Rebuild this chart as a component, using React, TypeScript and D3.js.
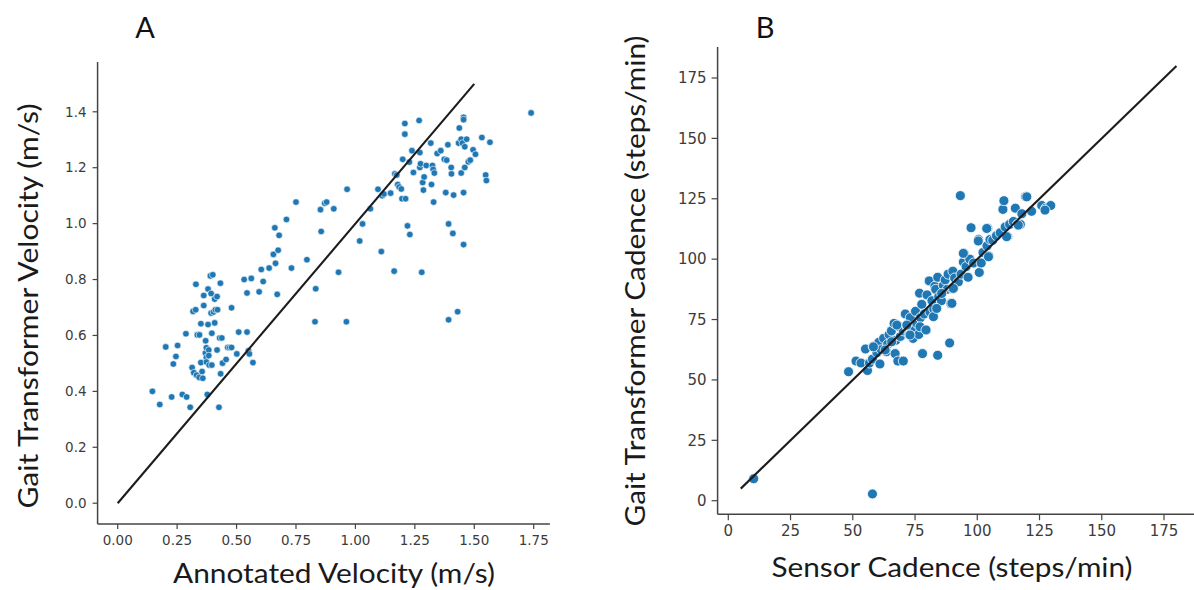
import React from "react";
import * as d3 from "d3";

// Panel A: [annotated velocity, gait transformer velocity] (m/s)
const velocityPairs: [number, number][] = [
  [0.146, 0.40], [0.177, 0.353], [0.202, 0.559], [0.227, 0.38], [0.234, 0.498], [0.245, 0.525],
  [0.252, 0.564], [0.272, 0.389], [0.287, 0.606], [0.29, 0.38], [0.305, 0.343], [0.313, 0.485],
  [0.317, 0.686], [0.328, 0.692], [0.329, 0.783], [0.32, 0.467], [0.332, 0.458], [0.335, 0.602],
  [0.344, 0.602], [0.343, 0.45], [0.35, 0.503], [0.35, 0.642], [0.358, 0.447], [0.355, 0.471],
  [0.362, 0.707], [0.362, 0.743], [0.37, 0.581], [0.369, 0.537], [0.373, 0.556], [0.373, 0.521],
  [0.373, 0.505], [0.377, 0.389], [0.38, 0.766], [0.38, 0.639], [0.383, 0.548], [0.383, 0.528],
  [0.385, 0.494], [0.39, 0.813], [0.393, 0.75], [0.393, 0.68], [0.396, 0.608], [0.40, 0.817],
  [0.396, 0.494], [0.403, 0.684], [0.408, 0.645], [0.408, 0.73], [0.411, 0.692], [0.418, 0.739],
  [0.42, 0.692], [0.418, 0.548], [0.426, 0.343], [0.429, 0.591], [0.432, 0.787], [0.433, 0.463],
  [0.438, 0.591], [0.441, 0.501], [0.456, 0.514], [0.463, 0.557], [0.471, 0.557], [0.479, 0.699],
  [0.479, 0.557], [0.501, 0.534], [0.509, 0.612], [0.532, 0.80], [0.544, 0.612], [0.544, 0.752],
  [0.55, 0.545], [0.554, 0.534], [0.562, 0.804], [0.569, 0.503], [0.595, 0.756], [0.604, 0.836],
  [0.612, 0.793], [0.637, 0.841], [0.655, 0.89], [0.661, 0.985], [0.664, 0.858], [0.671, 0.747],
  [0.675, 0.905], [0.679, 0.958], [0.71, 1.015], [0.731, 0.841], [0.75, 1.077], [0.796, 0.871],
  [0.83, 0.649], [0.833, 0.767], [0.856, 0.972], [0.853, 1.05], [0.871, 1.073], [0.879, 1.077],
  [0.909, 1.053], [0.929, 0.826], [0.962, 0.649], [0.965, 1.123], [1.018, 0.938], [1.03, 0.999],
  [1.063, 1.053], [1.095, 1.123], [1.109, 0.90], [1.113, 1.10], [1.12, 1.106], [1.148, 1.109],
  [1.163, 0.83], [1.166, 1.178], [1.174, 1.174], [1.178, 1.14], [1.184, 1.131], [1.193, 1.124],
  [1.199, 1.23], [1.196, 1.089], [1.211, 1.089], [1.208, 1.358], [1.208, 1.32], [1.219, 0.992],
  [1.227, 1.22], [1.229, 0.961], [1.238, 1.261], [1.244, 1.183], [1.268, 1.369], [1.271, 1.254],
  [1.271, 1.201], [1.274, 1.214], [1.279, 0.826], [1.283, 1.147], [1.286, 1.12], [1.289, 1.167],
  [1.298, 1.208], [1.317, 1.288], [1.32, 1.14], [1.324, 1.208], [1.327, 1.194], [1.329, 1.077],
  [1.332, 1.181], [1.344, 1.251], [1.359, 1.261], [1.374, 1.23], [1.38, 1.111], [1.384, 1.227],
  [1.389, 1.282], [1.392, 0.999], [1.392, 0.656], [1.403, 1.201], [1.404, 1.178], [1.41, 0.965],
  [1.413, 1.102], [1.43, 0.685], [1.434, 1.288], [1.437, 1.342], [1.445, 1.302], [1.445, 1.181],
  [1.45, 1.288], [1.455, 1.38], [1.455, 1.372], [1.455, 0.925], [1.455, 1.111], [1.46, 1.201],
  [1.46, 1.275], [1.468, 1.302], [1.475, 1.221], [1.483, 1.227], [1.495, 1.264], [1.505, 1.248],
  [1.532, 1.308], [1.548, 1.174], [1.551, 1.154], [1.566, 1.291], [1.739, 1.396],
];

// Panel B: [sensor cadence, gait transformer cadence] (steps/min)
const cadencePairs: [number, number][] = [
  [10.2, 9.1], [57.9, 2.8], [48.3, 53.4], [51.3, 57.8], [53.3, 57.0], [55.1, 62.8], [55.9, 53.9],
  [56.7, 57.0], [57.9, 58.6], [58.2, 63.8], [59.7, 61.3], [60.9, 56.6], [60.5, 65.6], [61.5, 62.5],
  [62.4, 67.2], [63.5, 61.7], [64.0, 64.8], [64.6, 68.8], [65.5, 70.3], [66.6, 73.4], [67.0, 60.9],
  [67.3, 66.4], [68.1, 57.8], [68.8, 71.9], [69.1, 68.0], [70.3, 57.8], [70.3, 70.3], [71.1, 77.3],
  [71.9, 71.9], [72.6, 68.8], [73.1, 75.8], [73.4, 69.5], [74.2, 67.2], [74.6, 71.9], [75.2, 78.4],
  [75.7, 73.4], [76.5, 68.8], [76.8, 85.9], [77.2, 75.8], [77.7, 81.3], [78.0, 60.9], [78.7, 77.3],
  [79.5, 70.6], [79.8, 85.2], [80.7, 91.0], [81.0, 78.1], [81.8, 82.8], [82.5, 79.4], [83.0, 88.8],
  [83.3, 87.5], [84.1, 60.2], [84.1, 92.5], [84.5, 84.4], [85.6, 82.8], [86.4, 89.1], [87.1, 91.4],
  [87.9, 87.5], [88.3, 93.8], [88.9, 65.3], [89.4, 81.6], [89.9, 87.8], [90.2, 95.0], [90.9, 92.2],
  [92.4, 90.6], [93.2, 126.3], [93.5, 93.8], [94.4, 98.8], [94.7, 102.3], [95.5, 96.9], [96.3, 92.5],
  [97.0, 100.0], [97.5, 113.0], [98.5, 98.4], [100.5, 108.1], [100.8, 94.5], [101.6, 98.4],
  [102.3, 102.8], [103.9, 105.5], [104.2, 112.8], [104.6, 101.3], [105.1, 108.1], [106.2, 107.8],
  [107.7, 109.7], [109.2, 110.9], [110.3, 120.6], [110.7, 124.2], [111.2, 113.3], [112.2, 109.4],
  [113.0, 114.4], [114.5, 115.6], [115.3, 121.1], [116.1, 114.4], [117.3, 114.4], [117.9, 118.8],
  [119.4, 125.8], [119.9, 125.8], [121.8, 119.8], [125.9, 122.2], [127.5, 121.1], [129.5, 122.2],
  [58.3, 63.7], [63.0, 62.4], [65.6, 65.8], [67.7, 72.7], [71.7, 72.7], [73.0, 68.6], [77.0, 72.0],
  [79.4, 70.7], [82.4, 76.2], [83.7, 79.6], [85.7, 85.8], [89.8, 81.7], [90.4, 87.9], [100.4, 107.5],
  [103.8, 112.7], [104.5, 101.0], [111.8, 109.3], [116.5, 114.1], [127.2, 120.3], [94.4, 102.4],
];

const velocityTicksX = [0, 0.25, 0.5, 0.75, 1.0, 1.25, 1.5, 1.75];
const velocityTicksY = [0, 0.2, 0.4, 0.6, 0.8, 1.0, 1.2, 1.4];
const cadenceTicks = [0, 25, 50, 75, 100, 125, 150, 175];
const identityA = [0, 1.5];
const identityB = [5, 180];

const BLUE = "#1f77b4";
const AXIS = "#444";
const TICK_FONT = "'DejaVu Sans', sans-serif";
const LABEL_FONT = "Lato, 'Open Sans', sans-serif";

type PanelProps = {
  x: d3.ScaleLinear<number, number>;
  y: d3.ScaleLinear<number, number>;
  xExt: [number, number];
  yExt: [number, number];
  xTicks: number[];
  yTicks: number[];
  fmtX: (v: number) => string;
  fmtY: (v: number) => string;
  pts: [number, number][];
  r: number;
  sw: number;
  identity: number[];
  tickLen: number;
  tickFs: number;
  pad: number;
};

function Panel(p: PanelProps) {
  const { x, y, xExt, yExt } = p;
  const line = d3.line<number>().x((d) => x(d)).y((d) => y(d));
  const left = x(xExt[0]);
  const right = x(xExt[1]);
  const bottom = y(yExt[0]);
  const top = y(yExt[1]);
  return (
    <g>
      {p.pts.map((d, i) => (
        <circle key={i} cx={x(d[0])} cy={y(d[1])} r={p.r} fill={BLUE} stroke="#fff" strokeWidth={p.sw} />
      ))}
      <path d={line(p.identity) || ""} stroke="#1c1c1c" strokeWidth={2.1} fill="none" />
      <line x1={left} x2={left} y1={top} y2={bottom} stroke={AXIS} strokeWidth={1.5} />
      <line x1={left} x2={right} y1={bottom} y2={bottom} stroke={AXIS} strokeWidth={1.5} />
      {p.yTicks.map((t) => (
        <g key={"y" + t}>
          <line x1={left - p.tickLen} x2={left} y1={y(t)} y2={y(t)} stroke={AXIS} strokeWidth={1.2} />
          <text x={left - p.tickLen - p.pad} y={y(t)} dy="0.35em" textAnchor="end" fontSize={p.tickFs} fontFamily={TICK_FONT} fill="#3c3c3c">
            {p.fmtY(t)}
          </text>
        </g>
      ))}
      {p.xTicks.map((t) => (
        <g key={"x" + t}>
          <line x1={x(t)} x2={x(t)} y1={bottom} y2={bottom + p.tickLen} stroke={AXIS} strokeWidth={1.2} />
          <text x={x(t)} y={bottom + p.tickLen + p.pad} dy="0.75em" textAnchor="middle" fontSize={p.tickFs} fontFamily={TICK_FONT} fill="#3c3c3c">
            {p.fmtX(t)}
          </text>
        </g>
      ))}
    </g>
  );
}

export default function App() {
  const xA = d3.scaleLinear().domain([0, 1.75]).range([117.7, 533.7]);
  const yA = d3.scaleLinear().domain([0, 1.4]).range([503.2, 111.8]);
  const xB = d3.scaleLinear().domain([0, 175]).range([728.3, 1164]);
  const yB = d3.scaleLinear().domain([0, 175]).range([500.7, 78]);
  const f2 = d3.format(".2f");
  const f1 = d3.format(".1f");
  const f0 = d3.format("d");
  return (
    <svg width={1194} height={590} style={{ position: "absolute", left: 0, top: 0, background: "#fff" }}>
      <rect width={1194} height={590} fill="#fff" />
      <Panel x={xA} y={yA} xExt={[-0.0846, 1.818]} yExt={[-0.074, 1.578]} xTicks={velocityTicksX} yTicks={velocityTicksY}
        fmtX={f2} fmtY={f1} pts={velocityPairs} r={3.3} sw={0.6} identity={identityA} tickLen={5} tickFs={13.5} pad={6} />
      <Panel x={xB} y={yB} xExt={[-4.3, 190]} yExt={[-5.6, 187.8]} xTicks={cadenceTicks} yTicks={cadenceTicks}
        fmtX={f0} fmtY={f0} pts={cadencePairs} r={5} sw={0.8} identity={identityB} tickLen={6} tickFs={15} pad={5} />
      <text x={145} y={38} textAnchor="middle" fontSize={29} fontFamily={LABEL_FONT} fill="#111">A</text>
      <text x={765} y={38} textAnchor="middle" fontSize={29} fontFamily={LABEL_FONT} fill="#111">B</text>
      <text x={334} y={583} textAnchor="middle" fontSize={26} fontFamily={LABEL_FONT} fill="#1a1a1a"
        textLength={322} lengthAdjust="spacingAndGlyphs">Annotated Velocity (m/s)</text>
      <text x={952} y={577} textAnchor="middle" fontSize={26} fontFamily={LABEL_FONT} fill="#1a1a1a"
        textLength={361} lengthAdjust="spacingAndGlyphs">Sensor Cadence (steps/min)</text>
      <text transform="translate(38,306) rotate(-90)" textAnchor="middle" fontSize={26} fontFamily={LABEL_FONT} fill="#1a1a1a"
        textLength={405} lengthAdjust="spacingAndGlyphs">Gait Transformer Velocity (m/s)</text>
      <text transform="translate(645,281) rotate(-90)" textAnchor="middle" fontSize={26} fontFamily={LABEL_FONT} fill="#1a1a1a"
        textLength={491} lengthAdjust="spacingAndGlyphs">Gait Transformer Cadence (steps/min)</text>
    </svg>
  );
}
